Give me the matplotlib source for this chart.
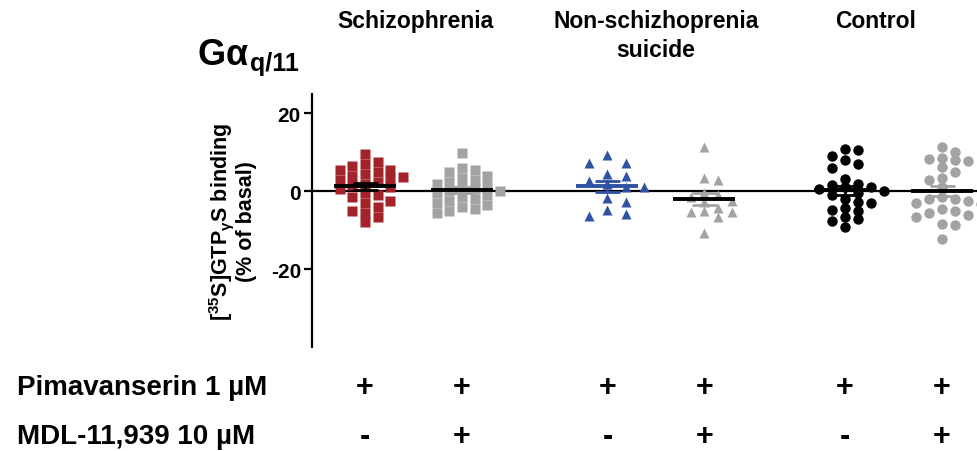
import numpy as np
import matplotlib
matplotlib.use("Agg")
import matplotlib.pyplot as plt

plt.rcParams['font.family'] = ['Liberation Sans', 'DejaVu Sans']
plt.rcParams['font.weight'] = 'bold'
plt.rcParams['axes.unicode_minus'] = False
plt.rcParams['mathtext.fontset'] = 'custom'
plt.rcParams['mathtext.rm'] = 'Liberation Sans:bold'
plt.rcParams['mathtext.bf'] = 'Liberation Sans:bold'
plt.rcParams['mathtext.it'] = 'Liberation Sans:bold'

# ---- data: [35S]GTPgS binding, % of basal ----
schizo_pim = [9.5, 7.5, 7.0, 6.5, 5.6, 5.5, 5.0, 4.5, 4.0, 3.8, 3.2, 3.0, 2.5, 2.0,
              1.5, 1.0, 0.5, -0.5, -1.0, -1.5, -2.5, -3.0, -4.0, -5.0, -5.5, -6.5, -8.0]
schizo_pim_mdl = [9.8, 6.0, 5.5, 5.0, 4.0, 3.5, 3.0, 2.5, 2.0, 1.5, 1.0, 0.5, 0.0, 0.0,
                  -0.5, -1.0, -1.5, -2.0, -2.5, -3.0, -3.5, -4.0, -4.5, -5.0, -5.5]
suicide_pim = [9.2, 7.4, 7.3, 4.5, 3.9, 2.6, 2.0, 1.0, 1.0, -1.6, -2.8, -4.8, -5.9, -6.3]
suicide_pim_mdl = [11.5, 3.5, 3.0, -0.5, -1.0, -1.5, -2.5, -2.8, -4.2, -5.0, -5.3, -5.3,
                   -6.6, -10.7]
control_pim = [10.8, 10.5, 9.0, 8.0, 7.0, 6.0, 3.1, 2.0, 1.5, 1.2, 1.0, 0.5, 0.0, -0.5,
               -1.0, -2.0, -2.8, -3.0, -4.2, -4.8, -5.1, -6.5, -7.2, -7.7, -9.2]
control_pim_mdl = [11.3, 10.2, 8.5, 8.2, 8.0, 7.7, 6.2, 4.9, 3.5, 3.0, 1.0, -1.5, -2.0,
                   -2.0, -2.5, -3.0, -3.3, -4.5, -5.0, -5.5, -6.0, -6.5, -8.5, -8.7, -12.3]

groups = [schizo_pim, schizo_pim_mdl, suicide_pim, suicide_pim_mdl, control_pim, control_pim_mdl]
pim_signs = ['+', '+', '+', '+', '+', '+']
mdl_signs = ['-', '+', '-', '+', '-', '+']
cohorts = ['Schizophrenia', 'Non-schizhoprenia\nsuicide', 'Control']

# ---- styles ----
xpos = [0, 1, 2.5, 3.5, 4.95, 5.95]
markers = ['s', 's', '^', '^', 'o', 'o']
colors = ['#A3232A', '#A3A3A3', '#2F52A5', '#A3A3A3', '#000000', '#A3A3A3']
mean_colors = ['k', 'k', '#2F52A5', 'k', 'k', 'k']
col_step = [0.13, 0.13, 0.19, 0.14, 0.135, 0.135]
cohort_x = [415, 656, 876]  # pixel centres of the cohort headings


def swarm(vals, dx, dy):
    # place points in columns so markers do not overlap
    vals = np.asarray(vals, float)
    offs = np.zeros(len(vals))
    placed = []
    cands = [0.0]
    for k in range(1, 12):
        cands += [k * dx, -k * dx]
    for i in np.argsort(vals)[::-1]:
        v = vals[i]
        for c in cands:
            if all(abs(c - px) >= dx * 0.99 or abs(v - py) >= dy for px, py in placed):
                break
        offs[i] = c
        placed.append((c, v))
    return offs


W, H = 977, 452
fig = plt.figure(figsize=(W / 100, H / 100), dpi=100)
ax = fig.add_axes([312 / W, (H - 348) / H, (W - 312) / W, 253 / H])

ax.axhline(0, color='k', lw=1.6, zorder=1)

for i, vals in enumerate(groups):
    vals = np.asarray(vals)
    offs = swarm(vals, col_step[i], 2.1)
    ax.plot(xpos[i] + offs, vals, ls='none', marker=markers[i], ms=7.5,
            mfc=colors[i], mec='none', zorder=2)
    m = vals.mean()
    sem = vals.std(ddof=1) / np.sqrt(len(vals))
    ax.errorbar(xpos[i], m, yerr=sem, color=colors[i] if i != 0 else 'k',
                capsize=9, capthick=2, elinewidth=2, zorder=3)
    ax.hlines(m, xpos[i] - 0.32, xpos[i] + 0.32, color=mean_colors[i], lw=2.8, zorder=4)

ax.set_xlim(-0.546, 6.31)
ax.set_ylim(-40, 25)
ax.set_yticks([20, 0, -20])
ax.set_xticks([])
for s in ['top', 'right', 'bottom']:
    ax.spines[s].set_visible(False)
ax.spines['left'].set_linewidth(1.6)
ax.tick_params(axis='y', length=6, width=1.6, labelsize=15, pad=2)
for lab in ax.get_yticklabels():
    lab.set_fontweight('bold')

ax.set_ylabel('[$^{35}$S]GTP$_{\\gamma}$S binding\n(% of basal)', fontsize=15.5,
              fontweight='bold', labelpad=10, linespacing=1.0)

# Galpha q/11 heading
fig.text(197 / W, 1 - 65 / H, 'G$\\alpha$', fontsize=26, fontweight='bold', va='baseline')
fig.text(250 / W, 1 - 71 / H, 'q/11', fontsize=18, fontweight='bold', va='baseline')

for cx, name in zip(cohort_x, cohorts):
    fig.text(cx / W, 1 - 10 / H, name, fontsize=16.5, fontweight='bold',
             ha='center', va='top', linespacing=1.35)

# treatment rows
fig.text(17 / W, 1 - 388 / H, 'Pimavanserin 1 µM', fontsize=20, fontweight='bold', va='center')
fig.text(17 / W, 1 - 437 / H, 'MDL-11,939 10 µM', fontsize=20, fontweight='bold', va='center')
tr = ax.get_xaxis_transform()
for x, p, d in zip(xpos, pim_signs, mdl_signs):
    ax.text(x, -0.158, p, transform=tr, ha='center', va='center', fontsize=22,
            fontweight='bold', clip_on=False)
    ax.text(x, -0.352, d, transform=tr, ha='center', va='center', fontsize=22,
            fontweight='bold', clip_on=False)

fig.savefig('out.png', dpi=100)
